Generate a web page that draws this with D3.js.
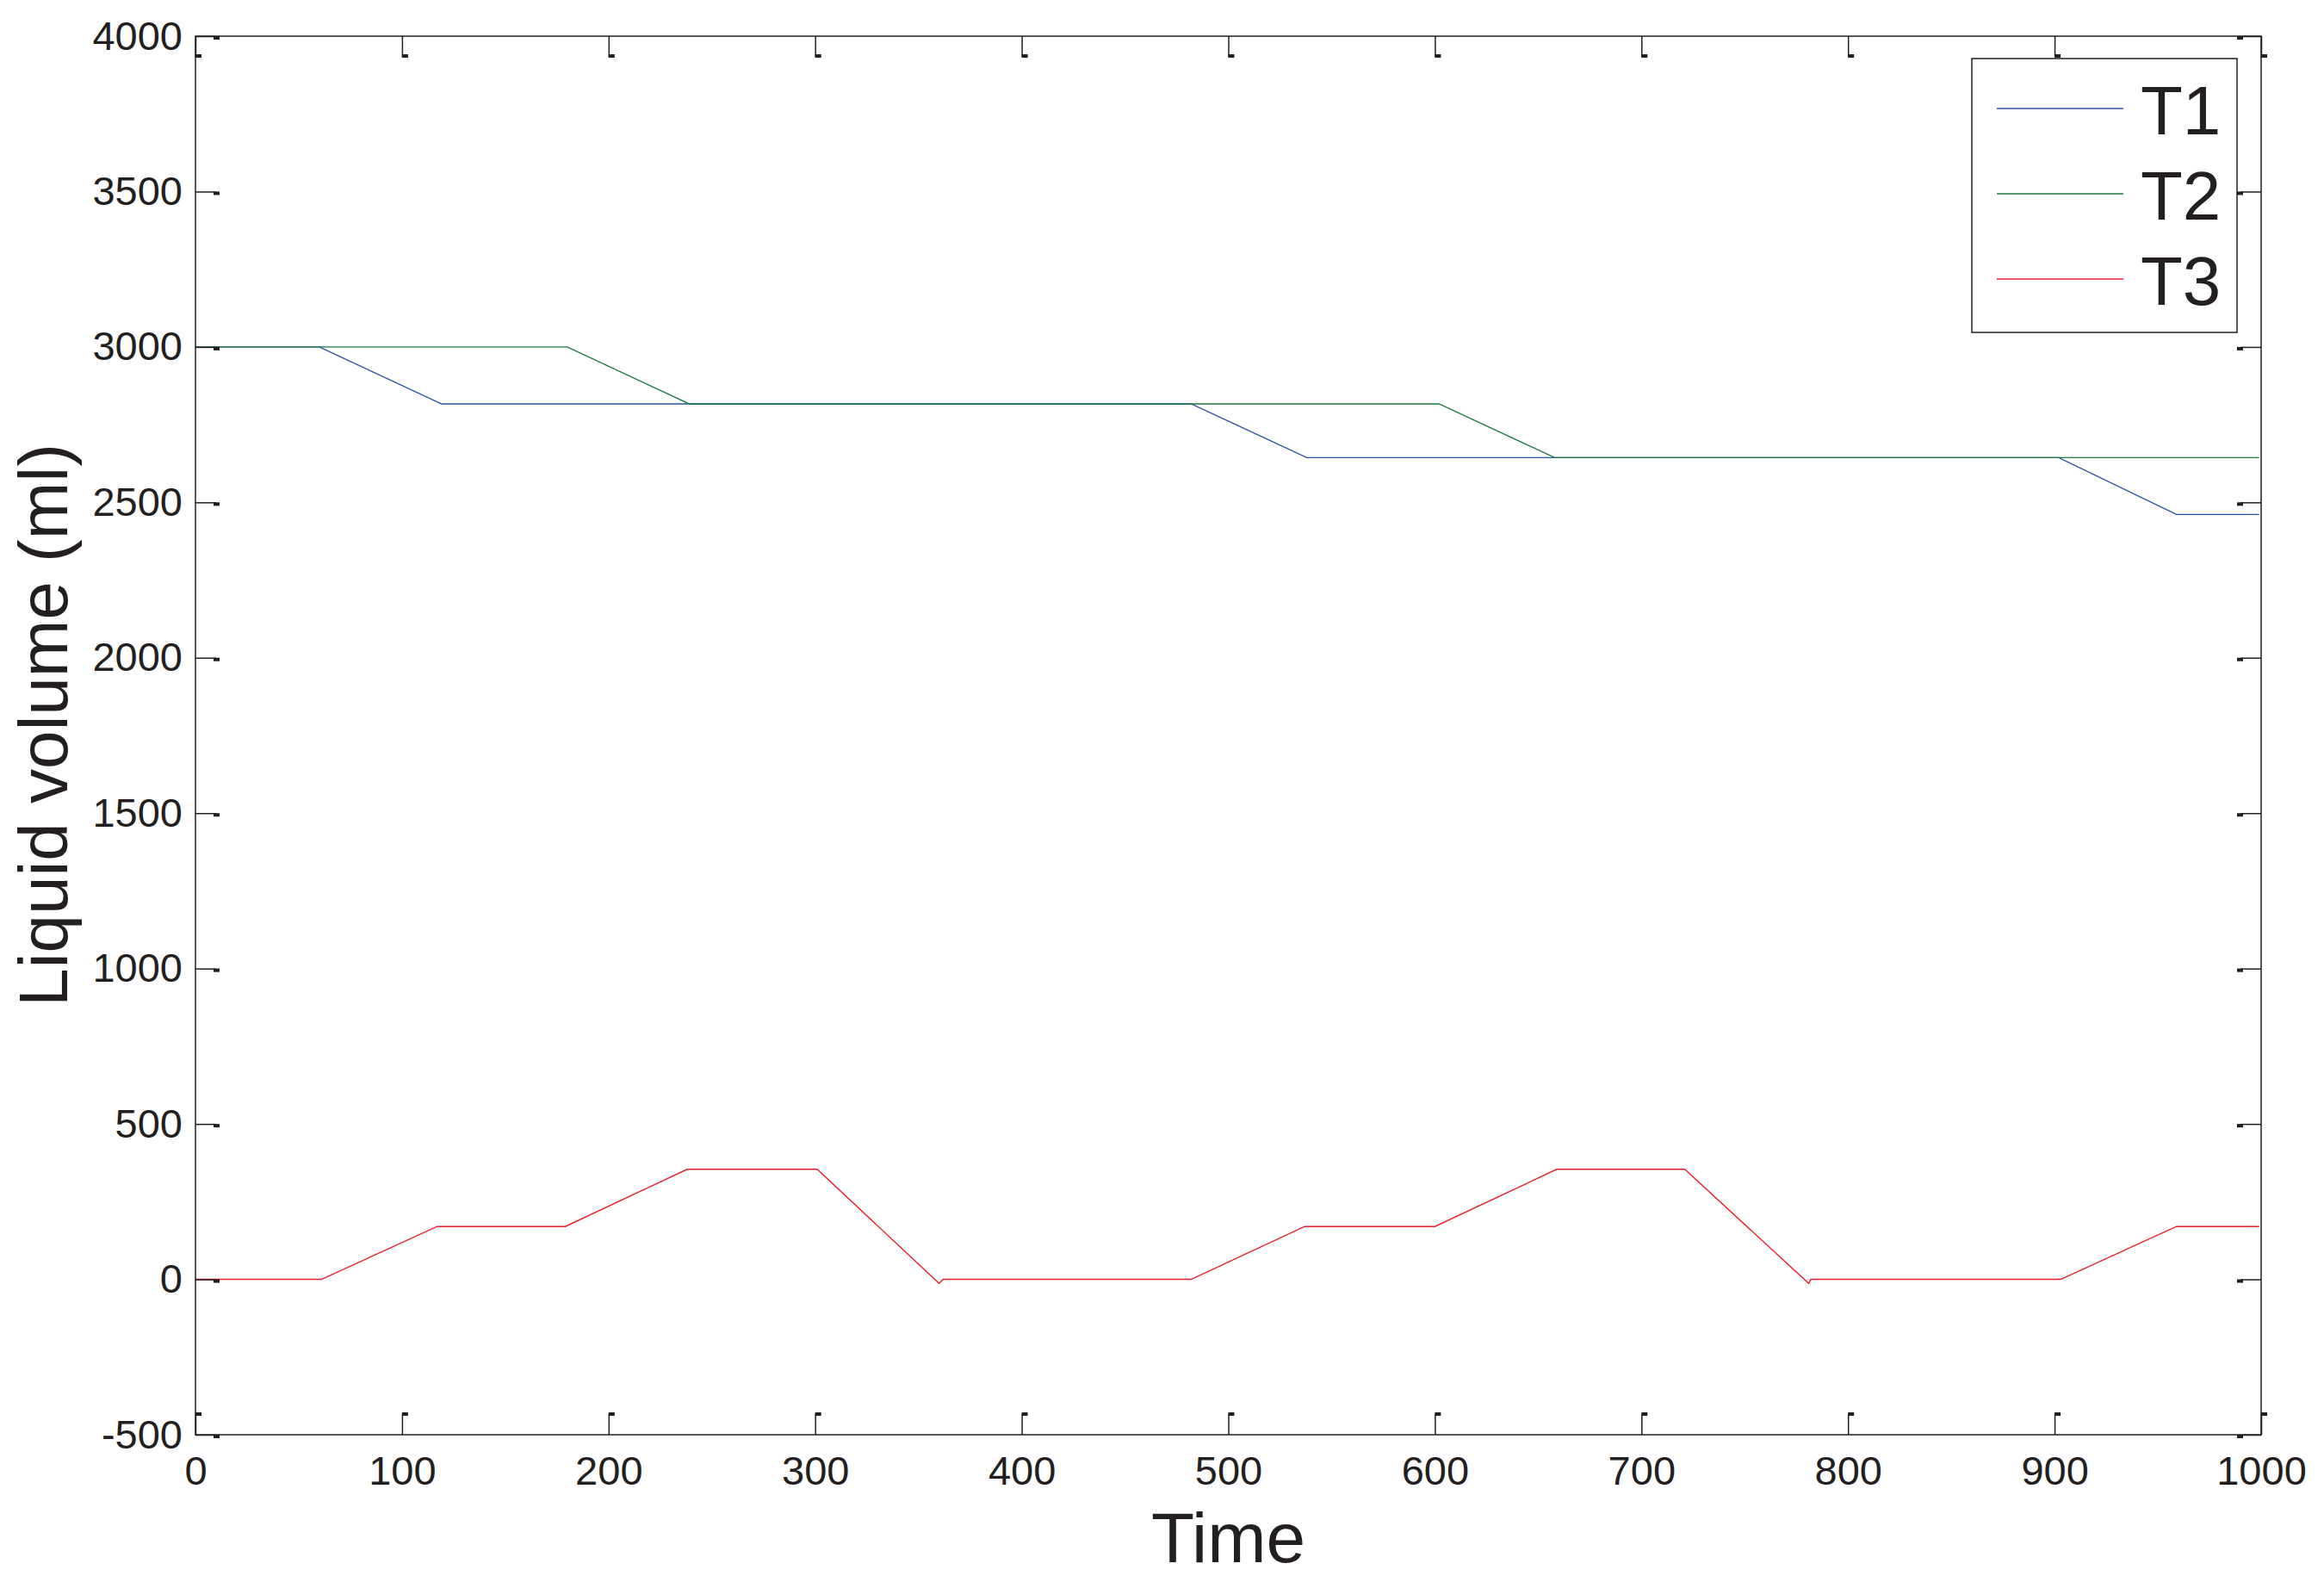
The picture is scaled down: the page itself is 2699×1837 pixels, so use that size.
<!DOCTYPE html>
<meta charset="utf-8">
<style>

body {
  margin: 0;
  background: #fff;
}

svg text {
  font-family: "Liberation Sans", Arial, Helvetica, sans-serif;
  fill: #231f20;
}

.line {
  fill: none;
  stroke-width: 1.4px;
}

</style>
<svg class="chart" width="2699" height="1837"></svg>

<script src="https://cdn.jsdelivr.net/npm/d3@7"></script>
<script>

  // values: time break points and volume (ml) at each
  var t1Time = [0, 60, 119, 482, 538, 902, 959, 999],
      t1Vol  = [3000, 3000, 2817, 2817, 2644, 2644, 2461, 2461];

  var t2Time = [0, 180, 239, 602, 658, 999],
      t2Vol  = [3000, 3000, 2817, 2817, 2644, 2644];

  var t3Time = [0, 61, 117, 179, 238, 301, 360, 362, 482, 537, 600, 659, 721, 781, 782, 903, 959, 999],
      t3Vol  = [0, 0, 170, 170, 354, 354, -13, 0, 0, 170, 170, 354, 354, -13, 0, 0, 170, 170];

  var seriesNames = ["T1", "T2", "T3"],
      seriesColors = ["#2d52a5", "#1a7a3f", "#ee1d25"];

  var xTicks = [0, 100, 200, 300, 400, 500, 600, 700, 800, 900, 1000],
      yTicks = [-500, 0, 500, 1000, 1500, 2000, 2500, 3000, 3500, 4000];

  var series = [
    {name: seriesNames[0], color: seriesColors[0], values: d3.zip(t1Time, t1Vol)},
    {name: seriesNames[1], color: seriesColors[1], values: d3.zip(t2Time, t2Vol)},
    {name: seriesNames[2], color: seriesColors[2], values: d3.zip(t3Time, t3Vol)}
  ];

  var svg = d3.select(".chart"),
      margin = {top: 42, right: 73, bottom: 171, left: 227},
      width = +svg.attr("width") - margin.left - margin.right,
      height = +svg.attr("height") - margin.top - margin.bottom,
      g = svg.append("g").attr("transform", "translate(" + margin.left + "," + margin.top + ")");

  var x = d3.scaleLinear()
      .domain([0, 1000])
      .range([0, width]);

  var y = d3.scaleLinear()
      .domain([-500, 4000])
      .range([height, 0]);

  var line = d3.line()
      .x(function(d) { return x(d[0]); })
      .y(function(d) { return y(d[1]); });

  var tickLen = 24, ink = "#231f20";
  var plain = function(d) { return String(d); }; // no thousands comma, ascii minus

  // data lines first, axes box on top
  g.selectAll(".line")
    .data(series)
    .enter().append("path")
      .attr("class", "line")
      .attr("stroke", function(d) { return d.color; })
      .attr("d", function(d) { return line(d.values); });

  function styleAxis(sel) {
    sel.select(".domain").remove();
    sel.selectAll(".tick line").attr("stroke", ink).attr("stroke-width", 1.5);
    sel.selectAll(".tick text").attr("font-size", 47).attr("fill", ink);
  }

  g.append("g")
      .attr("transform", "translate(0," + height + ")")
      .call(d3.axisBottom(x).tickValues(xTicks).tickFormat(plain).tickSizeInner(-tickLen).tickSizeOuter(0).tickPadding(25))
      .call(styleAxis);

  g.append("g")
      .call(d3.axisTop(x).tickValues(xTicks).tickSizeInner(-tickLen).tickSizeOuter(0).tickFormat(""))
      .call(styleAxis);

  g.append("g")
      .call(d3.axisLeft(y).tickValues(yTicks).tickFormat(plain).tickSizeInner(-tickLen).tickSizeOuter(0).tickPadding(15))
      .call(styleAxis);

  g.append("g")
      .attr("transform", "translate(" + width + ",0)")
      .call(d3.axisRight(y).tickValues(yTicks).tickSizeInner(-tickLen).tickSizeOuter(0).tickFormat(""))
      .call(styleAxis);

  // little square ends on the tick marks
  var marks = g.append("g").attr("fill", ink);
  xTicks.forEach(function(v) {
    marks.append("rect").attr("x", x(v)).attr("y", tickLen - 3).attr("width", 7).attr("height", 4);
    marks.append("rect").attr("x", x(v)).attr("y", height - tickLen - 2).attr("width", 7).attr("height", 4);
  });
  yTicks.forEach(function(v) {
    marks.append("rect").attr("x", tickLen - 3).attr("y", y(v)).attr("width", 7).attr("height", 4);
    marks.append("rect").attr("x", width - tickLen - 4).attr("y", y(v)).attr("width", 7).attr("height", 4);
  });

  g.append("rect")
      .attr("width", width)
      .attr("height", height)
      .attr("fill", "none")
      .attr("stroke", ink)
      .attr("stroke-width", 1.5);

  // axis titles
  svg.append("text")
      .attr("x", margin.left + width / 2)
      .attr("y", 1814)
      .attr("text-anchor", "middle")
      .attr("font-size", 82)
      .text("Time");

  svg.append("text")
      .attr("transform", "translate(78,842) rotate(-90)")
      .attr("text-anchor", "middle")
      .attr("font-size", 80)
      .text("Liquid volume (ml)");

  // legend
  var legend = svg.append("g").attr("transform", "translate(2290,68)");

  legend.append("rect")
      .attr("width", 308)
      .attr("height", 318)
      .attr("fill", "#fff")
      .attr("stroke", ink)
      .attr("stroke-width", 1.5);

  var item = legend.selectAll(".item")
    .data(series)
    .enter().append("g")
      .attr("class", "item")
      .attr("transform", function(d, i) { return "translate(0," + (58 + i * 99) + ")"; });

  item.append("line")
      .attr("x1", 29)
      .attr("x2", 176)
      .attr("stroke", function(d) { return d.color; })
      .attr("stroke-width", 1.5);

  item.append("text")
      .attr("x", 196)
      .attr("y", 30)
      .attr("font-size", 80)
      .text(function(d) { return d.name; });

</script>
